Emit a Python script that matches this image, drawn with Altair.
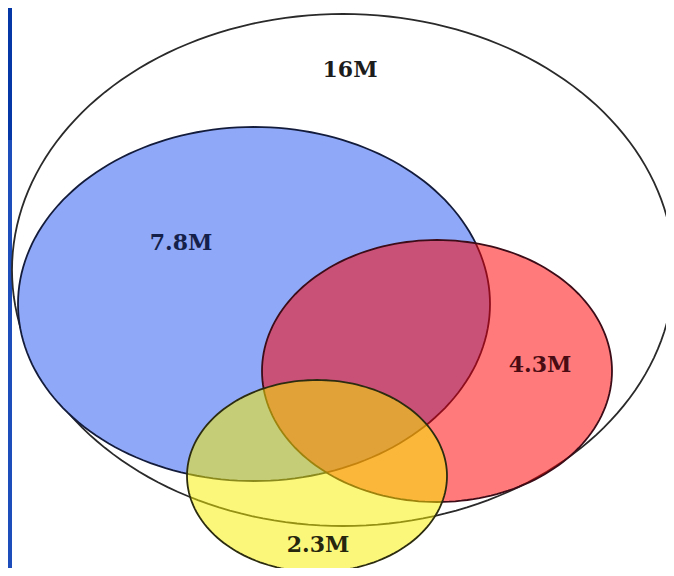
import altair as alt
import pandas as pd

# ---- data: set sizes shown in the diagram (millions) ----
set_labels = ["16M", "7.8M", "4.3M", "2.3M"]
set_values = [16.0, 7.8, 4.3, 2.3]

# ---- layout (plot-space units, 658 x 560 plot) ----
ellipse_cx = [335, 246, 429, 309]
ellipse_cy = [262, 296, 363, 468]
ellipse_rx = [331, 236, 175, 130]
ellipse_ry = [256, 177, 131, 96]
label_x = [342, 173, 532, 310]
label_y = [62, 235, 357, 537]

# ---- styles ----
fill_colors = ["#ffffff", "#8fa8f7", "#ff0000", "#f8f000"]
fill_opacity = [1.0, 1.0, 0.52, 0.52]
stroke_colors = ["#2a2a2a", "#141c3c", "#3c0c18", "#2c2c10"]
text_colors = ["#1c1c1c", "#15204a", "#4a0c12", "#26260e"]

W, H = 658, 560

df = pd.DataFrame({
    "set": set_labels,
    "value": set_values,
    "k": list(range(len(set_labels))),
    "cx": ellipse_cx,
    "cy": ellipse_cy,
    "rx": ellipse_rx,
    "ry": ellipse_ry,
    "lx": label_x,
    "ly": label_y,
})

xs = alt.Scale(domain=[0, W], nice=False, zero=False)
ys = alt.Scale(domain=[0, H], nice=False, zero=False, reverse=True)

layers = []

# blue slide edge on the left
strip_top = alt.Chart(df).mark_rect(color="#0637a6").encode(
    x=alt.value(0), x2=alt.value(4), y=alt.value(0), y2=alt.value(132)
).transform_filter("datum.k == 0")
strip_bot = alt.Chart(df).mark_rect(color="#1c4dba").encode(
    x=alt.value(0), x2=alt.value(4), y=alt.value(132), y2=alt.value(H)
).transform_filter("datum.k == 0")
layers += [strip_top, strip_bot]

for i in range(len(set_labels)):
    ell = (
        alt.Chart(df)
        .transform_filter(f"datum.k == {i}")
        .transform_calculate(t="sequence(0, 362, 2)")
        .transform_flatten(["t"])
        .transform_calculate(
            px="datum.cx + datum.rx * cos(datum.t * PI / 180)",
            py="datum.cy + datum.ry * sin(datum.t * PI / 180)",
        )
        .mark_line(
            fill=fill_colors[i],
            fillOpacity=fill_opacity[i],
            stroke=stroke_colors[i],
            strokeWidth=1.8,
            strokeOpacity=1,
        )
        .encode(
            x=alt.X("px:Q", scale=xs, axis=None),
            y=alt.Y("py:Q", scale=ys, axis=None),
            order=alt.Order("t:Q"),
        )
    )
    layers.append(ell)

texts = (
    alt.Chart(df)
    .mark_text(font="DejaVu Serif", fontWeight="bold", fontSize=22,
               align="center", baseline="middle")
    .encode(
        x=alt.X("lx:Q", scale=xs, axis=None),
        y=alt.Y("ly:Q", scale=ys, axis=None),
        text="set:N",
        color=alt.Color("set:N", scale=alt.Scale(domain=set_labels, range=text_colors), legend=None),
    )
)
layers.append(texts)

chart = (
    alt.layer(*layers)
    .properties(width=W, height=H, padding=0, autosize=alt.AutoSizeParams(type="none"),
                background="#ffffff")
    .configure_view(stroke=None)
)

chart.save("out.html", embed_options={"renderer": "svg", "actions": False})
